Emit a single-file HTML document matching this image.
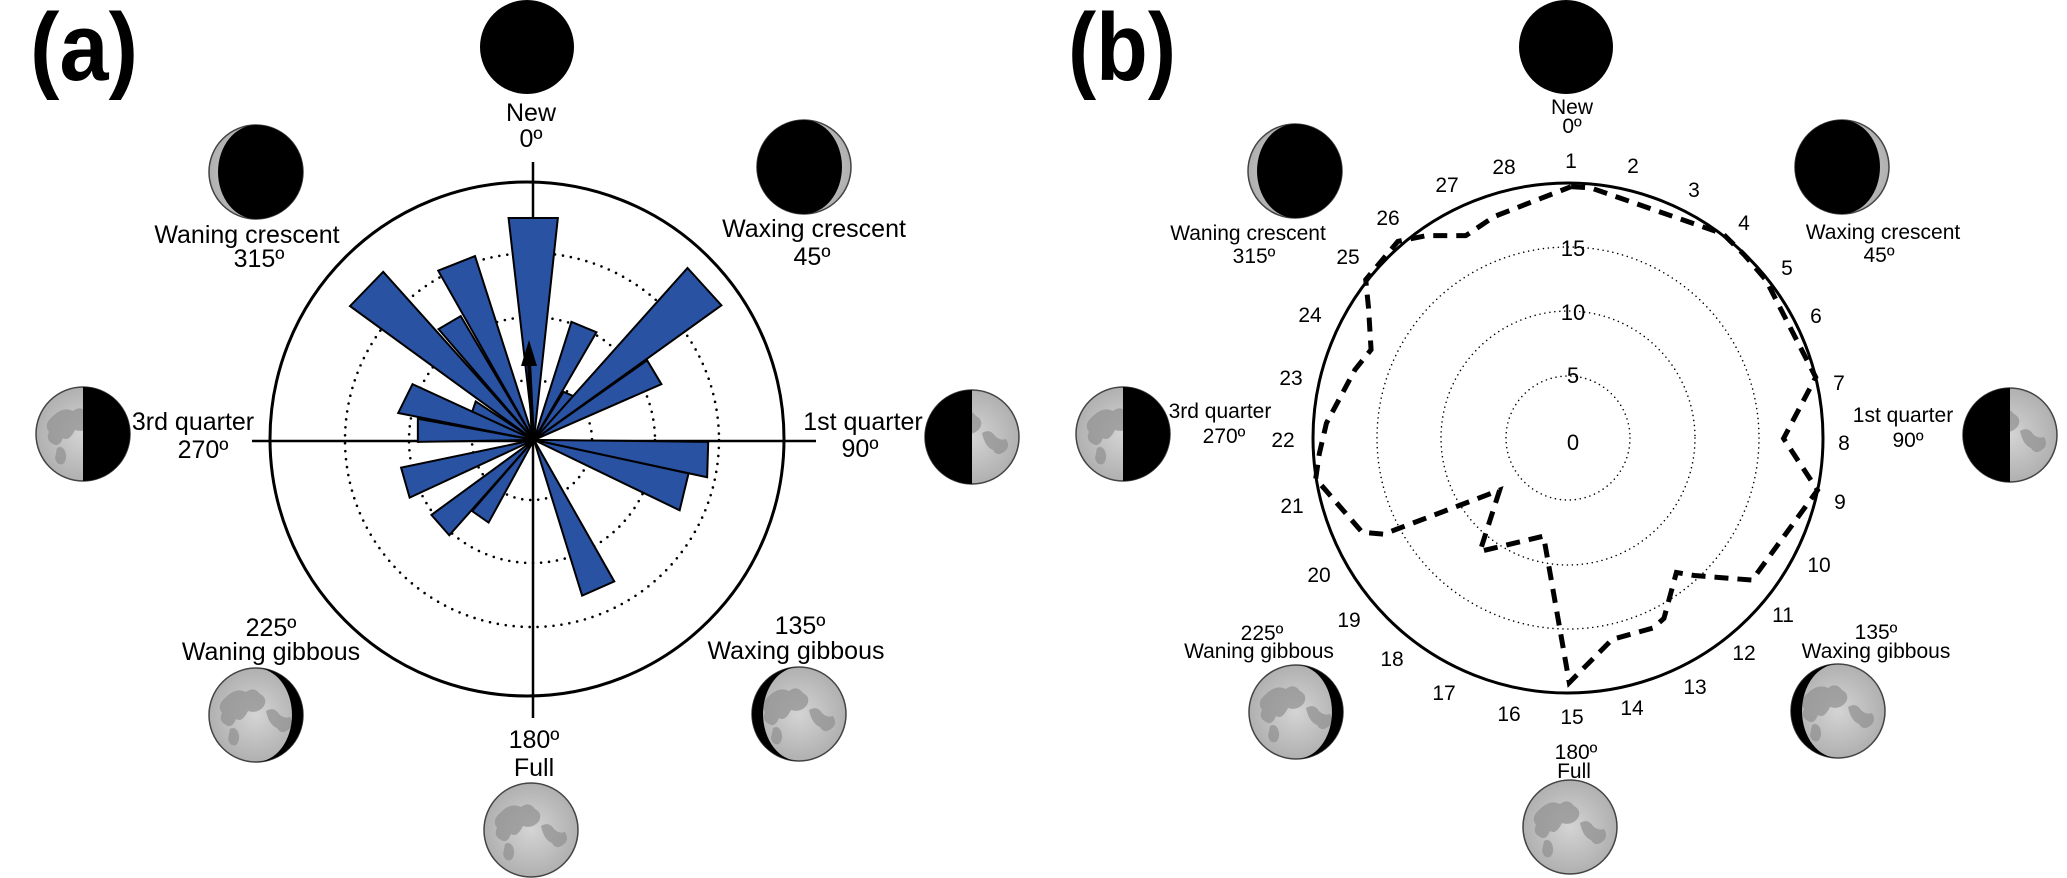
<!DOCTYPE html>
<html><head><meta charset="utf-8"><style>
html,body{margin:0;padding:0;background:#fff;}
svg{display:block;}
text{font-family:"Liberation Sans",Arial,sans-serif;fill:#000;}
</style></head><body>
<svg width="2067" height="878" viewBox="0 0 2067 878" xmlns="http://www.w3.org/2000/svg">
<defs>
<radialGradient id="mg" cx="50%" cy="50%" r="50%"><stop offset="0" stop-color="#d4d4d4"/><stop offset="1" stop-color="#b0b0b0"/></radialGradient>
<g id="moonbase">
<circle r="47" fill="url(#mg)" stroke="#444" stroke-width="1.5"/>
<g fill="#909090" opacity="0.7">
<path d="M-30,-18 q10,-10 20,-5 q8,-6 14,2 q8,4 4,12 q-6,8 -16,5 q-6,12 -12,8 q-4,10 -10,6 q-8,-4 -4,-12 q-6,-8 4,-16z"/>
<path d="M10,-4 q8,-5 13,3 q5,5 11,3 q5,8 -2,13 q-7,5 -11,-2 q-8,-3 -11,-17z"/>
<path d="M-26,14 q5,-3 8,3 q3,8 -2,13 q-6,2 -8,-6z"/>
</g>
</g>
</defs>

<text x="30" y="80" font-size="96" font-weight="bold" textLength="108" lengthAdjust="spacingAndGlyphs">(a)</text>
<text x="1068" y="80" font-size="96" font-weight="bold" textLength="108" lengthAdjust="spacingAndGlyphs">(b)</text>

<!-- ================= PANEL A ================= -->
<line x1="533" y1="162" x2="533" y2="718" stroke="#000" stroke-width="2.5"/>
<line x1="252" y1="441" x2="816" y2="441" stroke="#000" stroke-width="2.5"/>
<ellipse cx="527" cy="439" rx="257" ry="257" fill="none" stroke="#000" stroke-width="3"/>
<g fill="none" stroke="#000" stroke-width="2.6" stroke-linecap="round" stroke-dasharray="0 8">
<circle cx="532" cy="440" r="60"/>
<circle cx="532" cy="440" r="123"/>
<circle cx="532" cy="440" r="187"/>
</g>
<g transform="translate(250,138) scale(0.35714,0.3846)" fill="#2a52a3" stroke="#000" stroke-width="2" stroke-linejoin="miter">
<polygon vector-effect="non-scaling-stroke" points="795,785 528,497 590,463"/>
<polygon vector-effect="non-scaling-stroke" points="795,785 622,712 632,685"/>
<polygon vector-effect="non-scaling-stroke" points="795,785 878,660 908,672"/>
<polygon vector-effect="non-scaling-stroke" points="795,785 724,208 862,208"/>
<polygon vector-effect="non-scaling-stroke" points="795,785 527,345 630,307"/>
<polygon vector-effect="non-scaling-stroke" points="795,785 280,437 373,348"/>
<polygon vector-effect="non-scaling-stroke" points="795,785 415,715 455,640"/>
<polygon vector-effect="non-scaling-stroke" points="795,785 470,730 470,790"/>
<polygon vector-effect="non-scaling-stroke" points="795,785 423,857 447,935"/>
<polygon vector-effect="non-scaling-stroke" points="795,785 508,980 558,1033"/>
<polygon vector-effect="non-scaling-stroke" points="795,785 622,970 668,1000"/>
<polygon vector-effect="non-scaling-stroke" points="795,785 1020,1153 930,1190"/>
<polygon vector-effect="non-scaling-stroke" points="795,785 1228,872 1203,968"/>
<polygon vector-effect="non-scaling-stroke" points="795,785 1283,790 1280,882"/>
<polygon vector-effect="non-scaling-stroke" points="795,785 1112,578 1152,640"/>
<polygon vector-effect="non-scaling-stroke" points="795,785 1225,338 1320,435"/>
<polygon vector-effect="non-scaling-stroke" points="795,785 900,478 970,505"/>
</g>
<line x1="533" y1="440" x2="529" y2="362" stroke="#000" stroke-width="4"/>
<polygon points="529,340 521,366 537,366" fill="#000"/>

<g font-size="25" text-anchor="middle">
<text x="531" y="121">New</text>
<text x="531" y="147">0º</text>
<text x="247" y="243">Waning crescent</text>
<text x="259" y="267">315º</text>
<text x="814" y="237">Waxing crescent</text>
<text x="812" y="265">45º</text>
<text x="193" y="430">3rd quarter</text>
<text x="203" y="458">270º</text>
<text x="863" y="430">1st quarter</text>
<text x="860" y="457">90º</text>
<text x="271" y="636">225º</text>
<text x="271" y="660">Waning gibbous</text>
<text x="800" y="634">135º</text>
<text x="796" y="659">Waxing gibbous</text>
<text x="534" y="748">180º</text>
<text x="534" y="776">Full</text>
</g>

<circle cx="527" cy="47" r="47" fill="#000"/>
<g transform="translate(256,172)"><use href="#moonbase"/><path d="M0,-47 A47,47 0 0 1 0,47 A38,47 0 0 1 0,-47z" fill="#000"/></g>
<g transform="translate(804,167)"><use href="#moonbase"/><path d="M0,-47 A47,47 0 0 0 0,47 A38,47 0 0 0 0,-47z" fill="#000"/></g>
<g transform="translate(83,434)"><use href="#moonbase"/><path d="M0,-47 A47,47 0 0 1 0,47z" fill="#000"/></g>
<g transform="translate(972,437)"><use href="#moonbase"/><path d="M0,-47 A47,47 0 0 0 0,47z" fill="#000"/></g>
<g transform="translate(256,715)"><use href="#moonbase"/><path d="M0,-47 A47,47 0 0 1 0,47 A36,47 0 0 0 0,-47z" fill="#000"/></g>
<g transform="translate(799,714)"><use href="#moonbase"/><path d="M0,-47 A47,47 0 0 0 0,47 A36,47 0 0 1 0,-47z" fill="#000"/></g>
<g transform="translate(531,830)"><use href="#moonbase"/></g>

<!-- ================= PANEL B ================= -->
<circle cx="1568" cy="438" r="255" fill="none" stroke="#000" stroke-width="3"/>
<g fill="none" stroke="#000" stroke-width="1.6" stroke-linecap="round" stroke-dasharray="0 5">
<circle cx="1568" cy="438" r="62"/>
<circle cx="1568" cy="438" r="127"/>
<circle cx="1568" cy="438" r="191"/>
</g>
<g font-size="22" text-anchor="middle">
<text x="1573" y="256">15</text>
<text x="1573" y="320">10</text>
<text x="1573" y="383">5</text>
<text x="1573" y="450">0</text>
</g>
<g transform="translate(1280,140) scale(0.35714,0.3827)">
<polyline vector-effect="non-scaling-stroke" fill="none" stroke="#000" stroke-width="5" stroke-dasharray="14 9" stroke-linejoin="miter"
points="815,122 870,125 1240,245 1300,300 1360,365 1500,620 1410,780 1505,915 1322,1150 1160,1138 1110,1130 1075,1250 1045,1275 930,1305 810,1418 738,1035 560,1075 615,915 290,1030 230,1025 100,885 110,820 130,740 210,600 255,548 248,440 240,365 330,265 410,250 520,250 600,200 815,122"/>
</g>
<g font-size="21" text-anchor="middle">
<text x="1571" y="168">1</text>
<text x="1633" y="173">2</text>
<text x="1694" y="197">3</text>
<text x="1744" y="230">4</text>
<text x="1787" y="275">5</text>
<text x="1816" y="323">6</text>
<text x="1839" y="390">7</text>
<text x="1844" y="450">8</text>
<text x="1840" y="509">9</text>
<text x="1819" y="572">10</text>
<text x="1783" y="622">11</text>
<text x="1744" y="660">12</text>
<text x="1695" y="694">13</text>
<text x="1632" y="715">14</text>
<text x="1572" y="724">15</text>
<text x="1509" y="721">16</text>
<text x="1444" y="700">17</text>
<text x="1392" y="666">18</text>
<text x="1349" y="627">19</text>
<text x="1319" y="582">20</text>
<text x="1292" y="513">21</text>
<text x="1283" y="447">22</text>
<text x="1291" y="385">23</text>
<text x="1310" y="322">24</text>
<text x="1348" y="264">25</text>
<text x="1388" y="225">26</text>
<text x="1447" y="192">27</text>
<text x="1504" y="174">28</text>
</g>
<g font-size="21" text-anchor="middle">
<text x="1572" y="114">New</text>
<text x="1572" y="133">0º</text>
<text x="1248" y="240">Waning crescent</text>
<text x="1254" y="263">315º</text>
<text x="1883" y="239">Waxing crescent</text>
<text x="1879" y="262">45º</text>
<text x="1220" y="418">3rd quarter</text>
<text x="1224" y="443">270º</text>
<text x="1903" y="422">1st quarter</text>
<text x="1908" y="447">90º</text>
<text x="1262" y="640">225º</text>
<text x="1259" y="658">Waning gibbous</text>
<text x="1876" y="639">135º</text>
<text x="1876" y="658">Waxing gibbous</text>
<text x="1576" y="759">180º</text>
<text x="1574" y="778">Full</text>
</g>

<circle cx="1566" cy="47" r="47" fill="#000"/>
<g transform="translate(1295,171)"><use href="#moonbase"/><path d="M0,-47 A47,47 0 0 1 0,47 A38,47 0 0 1 0,-47z" fill="#000"/></g>
<g transform="translate(1842,167)"><use href="#moonbase"/><path d="M0,-47 A47,47 0 0 0 0,47 A38,47 0 0 0 0,-47z" fill="#000"/></g>
<g transform="translate(1123,434)"><use href="#moonbase"/><path d="M0,-47 A47,47 0 0 1 0,47z" fill="#000"/></g>
<g transform="translate(2010,435)"><use href="#moonbase"/><path d="M0,-47 A47,47 0 0 0 0,47z" fill="#000"/></g>
<g transform="translate(1296,712)"><use href="#moonbase"/><path d="M0,-47 A47,47 0 0 1 0,47 A36,47 0 0 0 0,-47z" fill="#000"/></g>
<g transform="translate(1838,711)"><use href="#moonbase"/><path d="M0,-47 A47,47 0 0 0 0,47 A36,47 0 0 1 0,-47z" fill="#000"/></g>
<g transform="translate(1570,827)"><use href="#moonbase"/></g>
</svg>
</body></html>
